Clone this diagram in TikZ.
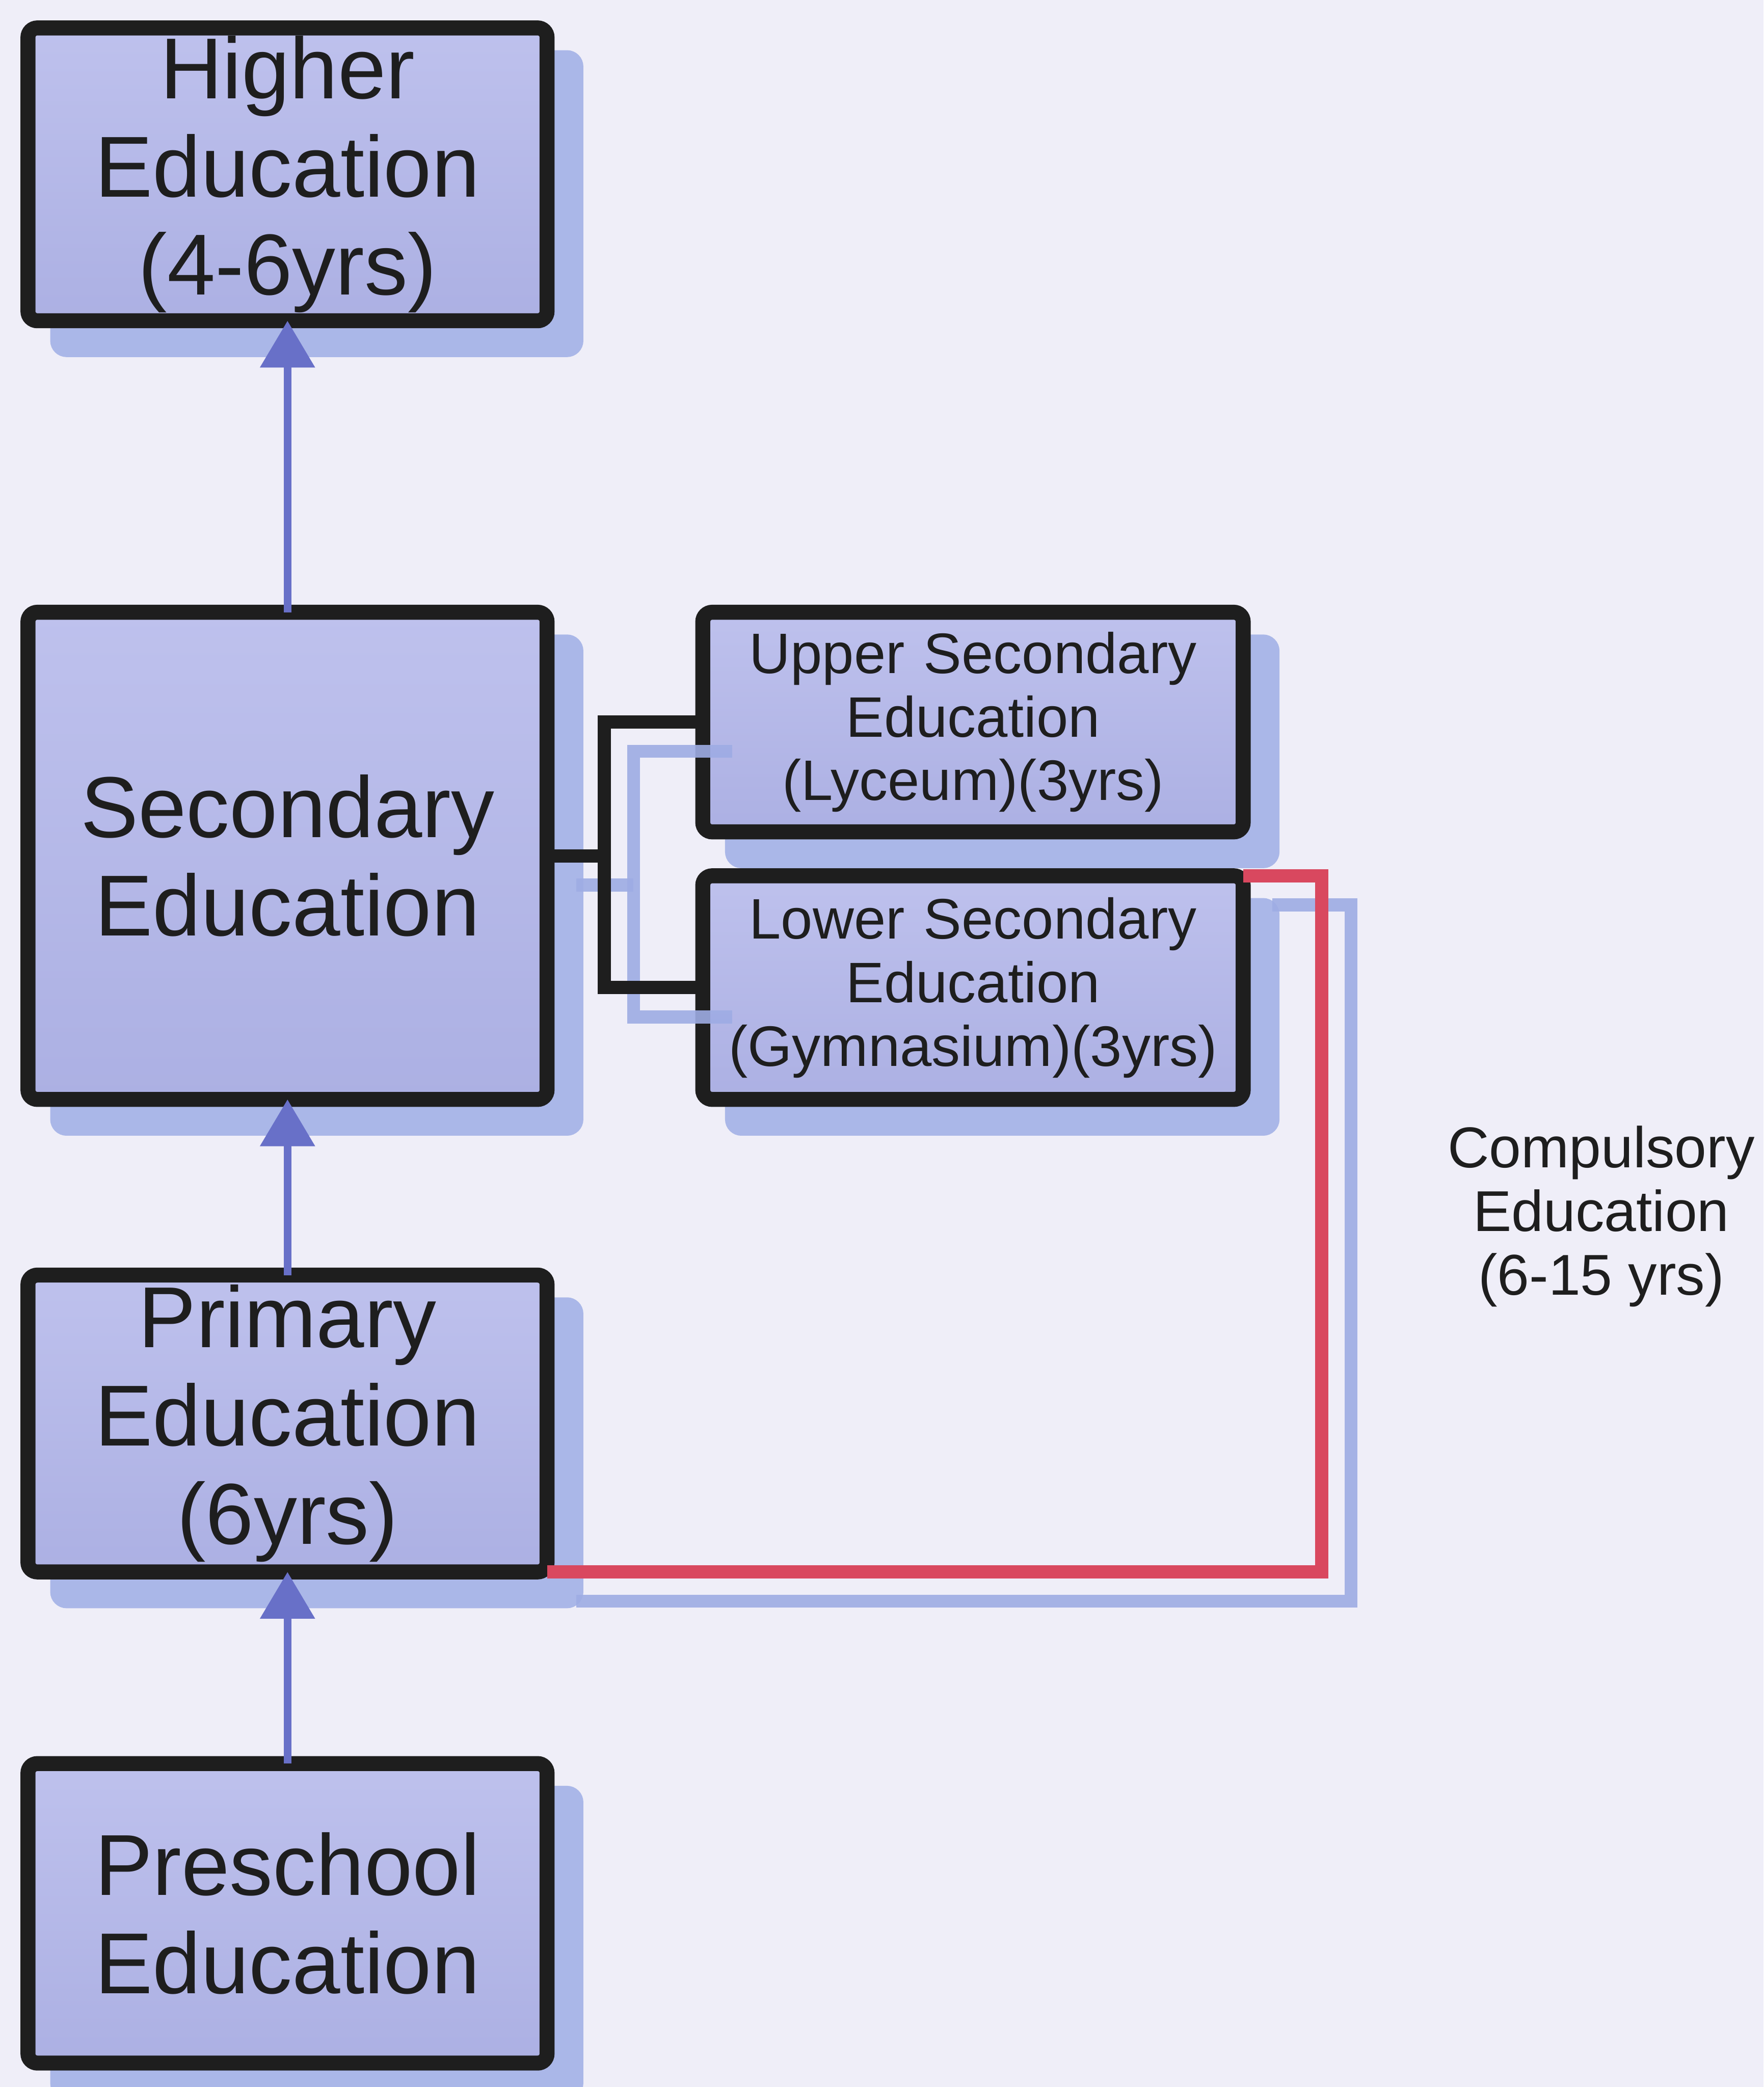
\documentclass[tikz,border=0pt]{standalone}
\usepackage{fontspec}
\setmainfont{Liberation Sans}
\usepackage{xcolor}
\usepackage{tikz}
\usetikzlibrary{arrows.meta, positioning, calc, shadows}
\definecolor{mybg}{RGB}{239,238,248}
\definecolor{mydark}{RGB}{30,30,30}
\definecolor{myblue}{RGB}{104,112,200}
\definecolor{myred}{RGB}{217,72,95}
\definecolor{myshade}{RGB}{170,183,232}
\definecolor{lineshade}{RGB}{158,172,228}
\definecolor{boxtop}{RGB}{190,193,237}
\definecolor{boxbot}{RGB}{172,176,227}
\tikzset{
  block/.style={rectangle, draw=mydark, top color=boxtop, bottom color=boxbot,
    minimum width=3.9cm, text width=3.7cm, align=center, inner sep=0pt, outer sep=0pt,
    font=\fontsize{18.5}{21}\selectfont, rounded corners=2pt, line width=3.2pt,
    drop shadow={shadow xshift=0.22cm, shadow yshift=-0.22cm, fill=myshade,
      draw=myshade, line width=3pt, opacity=1}},
  subblock/.style={block, minimum width=4.06cm, text width=3.96cm,
    font=\fontsize{12.2}{13.6}\selectfont},
  arrow/.style={-{Triangle[width=11.4pt, length=10pt]}, line width=1.6pt, color=myblue},
  link/.style={line width=2.8pt, color=mydark},
  redlink/.style={line width=2.8pt, color=myred},
  shadelink/.style={line width=2.8pt, color=lineshade, opacity=0.9},
  offs/.style={xshift=0.22cm, yshift=-0.22cm}
}

\begin{document}
\begin{tikzpicture}[every node/.style={text=mydark}]
  \fill[mybg] (0,0) rectangle (13.25,-15.68);
  \useasboundingbox (0,0) rectangle (13.25,-15.68);

  % Main ladder
  \node[block, minimum height=2.2cm] (hi) at (2.16,-1.31) {Higher\\Education\\(4-6yrs)};
  \node[block, minimum height=3.66cm, below=2.19cm of hi] (sec) {Secondary\\Education};
  \node[block, minimum height=2.23cm, below=1.32cm of sec] (prim) {Primary\\Education\\(6yrs)};
  \node[block, minimum height=2.25cm, below=1.44cm of prim] (pre) {Preschool\\Education};

  % Secondary branches
  \node[subblock, minimum height=1.65cm, below right=0cm and 1.17cm of sec.north east] (upsec) {Upper Secondary\\Education\\(Lyceum)(3yrs)};
  \node[subblock, minimum height=1.68cm, above right=0cm and 1.17cm of sec.south east] (lowsec) {Lower Secondary\\Education\\(Gymnasium)(3yrs)};

  % Compulsory label
  \node[font=\fontsize{12.3}{13.6}\selectfont, align=center] (comp) at (12.03,-9.14) {Compulsory\\Education\\(6-15 yrs)};

  % Shadows of the links
  \coordinate (br) at ($(sec.east)+(0.43,0)$);
  \coordinate (rc) at ($(lowsec.north east)+(0.59,0)$);
  \draw[shadelink] ([offs]sec.east) -- ([offs]br);
  \draw[shadelink] ([offs]upsec.west) -| ([offs]br) |- ([offs]lowsec.west);
  \draw[shadelink] ([offs]prim.south east) -| ([offs]rc) -- ([offs]lowsec.north east);

  % Links
  \draw[link] (sec.east) -- (br);
  \draw[link] (upsec.west) -| (br) |- (lowsec.west);
  \draw[redlink] (prim.south east) -| (rc) -- (lowsec.north east);

  % Arrows
  \draw[arrow] (sec.north) -- (hi.south);
  \draw[arrow] (prim.north) -- (sec.south);
  \draw[arrow] (pre.north) -- (prim.south);
\end{tikzpicture}
\end{document}
